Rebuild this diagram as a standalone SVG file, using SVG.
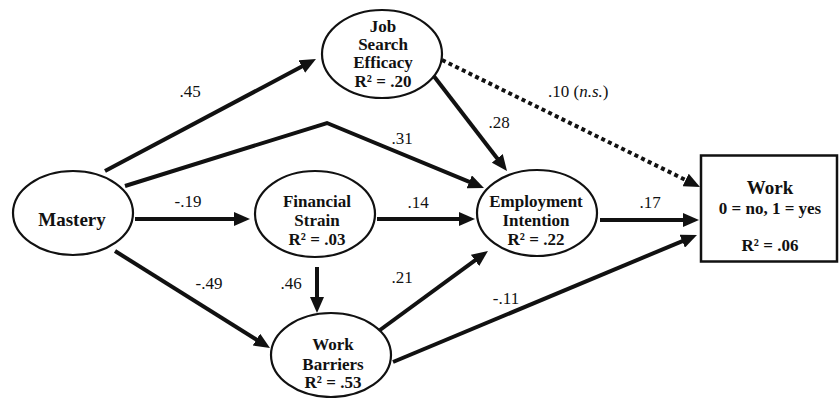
<svg xmlns="http://www.w3.org/2000/svg" width="839" height="398" viewBox="0 0 839 398">
<style>
.node ellipse, .node rect { fill: #fff; stroke: #111; stroke-width: 2.2; }
.nt { font-family: "Liberation Serif", "Times New Roman", serif; font-weight: bold; font-size: 17px; fill: #111; text-anchor: middle; }
.lbl { font-family: "Liberation Serif", "Times New Roman", serif; font-size: 17px; fill: #111; text-anchor: middle; }
.edge { fill: none; stroke: #111; stroke-width: 4; marker-end: url(#ah); }
.dot { stroke-dasharray: 4 3.4; }
</style>
<defs>
<marker id="ah" markerUnits="userSpaceOnUse" markerWidth="16" markerHeight="14" refX="8" refY="7" orient="auto">
<path d="M0,0 L16,7 L0,14 z" fill="#111"/>
</marker>
</defs>
<rect width="839" height="398" fill="#fff"/>
<g id="connectors">
<line class="edge" x1="105" y1="171" x2="308.9" y2="62.8"/>
<polyline class="edge" points="125,186 327,123 476.6,184.9"/>
<line class="edge" x1="433" y1="75" x2="502.1" y2="164.7"/>
<line class="edge dot" x1="442" y1="60" x2="692.8" y2="183.5"/>
<line class="edge" x1="135" y1="219" x2="242" y2="219"/>
<line class="edge" x1="377" y1="219" x2="467" y2="219"/>
<line class="edge" x1="600" y1="220" x2="691" y2="220"/>
<line class="edge" x1="317" y1="267" x2="317" y2="305"/>
<line class="edge" x1="115" y1="251" x2="263.2" y2="343.8"/>
<line class="edge" x1="380" y1="330" x2="481.5" y2="255.7"/>
<line class="edge" x1="393" y1="362" x2="689.6" y2="238.1"/>
</g>
<g id="labels">
<text class="lbl" x="190" y="97">.45</text>
<text class="lbl" x="402" y="144">.31</text>
<text class="lbl" x="499" y="128">.28</text>
<text class="lbl" x="548" y="97" style="text-anchor:start">.10 (<tspan font-style="italic">n.s.</tspan>)</text>
<text class="lbl" x="188" y="207">-.19</text>
<text class="lbl" x="418" y="208">.14</text>
<text class="lbl" x="650" y="208">.17</text>
<text class="lbl" x="291" y="289">.46</text>
<text class="lbl" x="209" y="289">-.49</text>
<text class="lbl" x="402" y="283">.21</text>
<text class="lbl" x="506" y="304">-.11</text>
</g>
<g id="mastery" class="node">
<ellipse cx="73" cy="213" rx="60" ry="42"/>
<text class="nt" x="72" y="226" style="font-size:19px">Mastery</text>
</g>
<g id="job-search-efficacy" class="node">
<ellipse cx="382" cy="54" rx="60" ry="44"/>
<text class="nt" x="383" y="32">Job</text>
<text class="nt" x="383" y="50">Search</text>
<text class="nt" x="383" y="68">Efficacy</text>
<text class="nt" x="383" y="87">R² = .20</text>
</g>
<g id="financial-strain" class="node">
<ellipse cx="315" cy="214" rx="60" ry="43"/>
<text class="nt" x="317" y="207">Financial</text>
<text class="nt" x="317" y="226">Strain</text>
<text class="nt" x="317" y="245">R² = .03</text>
</g>
<g id="employment-intention" class="node">
<ellipse cx="537" cy="213" rx="60" ry="43"/>
<text class="nt" x="536" y="207">Employment</text>
<text class="nt" x="536" y="226">Intention</text>
<text class="nt" x="536" y="245">R² = .22</text>
</g>
<g id="work-barriers" class="node">
<ellipse cx="331" cy="355" rx="60" ry="42"/>
<text class="nt" x="333" y="350">Work</text>
<text class="nt" x="333" y="370">Barriers</text>
<text class="nt" x="333" y="388">R² = .53</text>
</g>
<g id="work" class="node">
<rect x="701" y="155.5" width="136" height="106" style="stroke-width:2.5"/>
<text class="nt" x="770" y="194" style="font-size:19px">Work</text>
<text class="nt" x="770" y="214">0 = no, 1 = yes</text>
<text class="nt" x="770" y="251">R² = .06</text>
</g>
</svg>
